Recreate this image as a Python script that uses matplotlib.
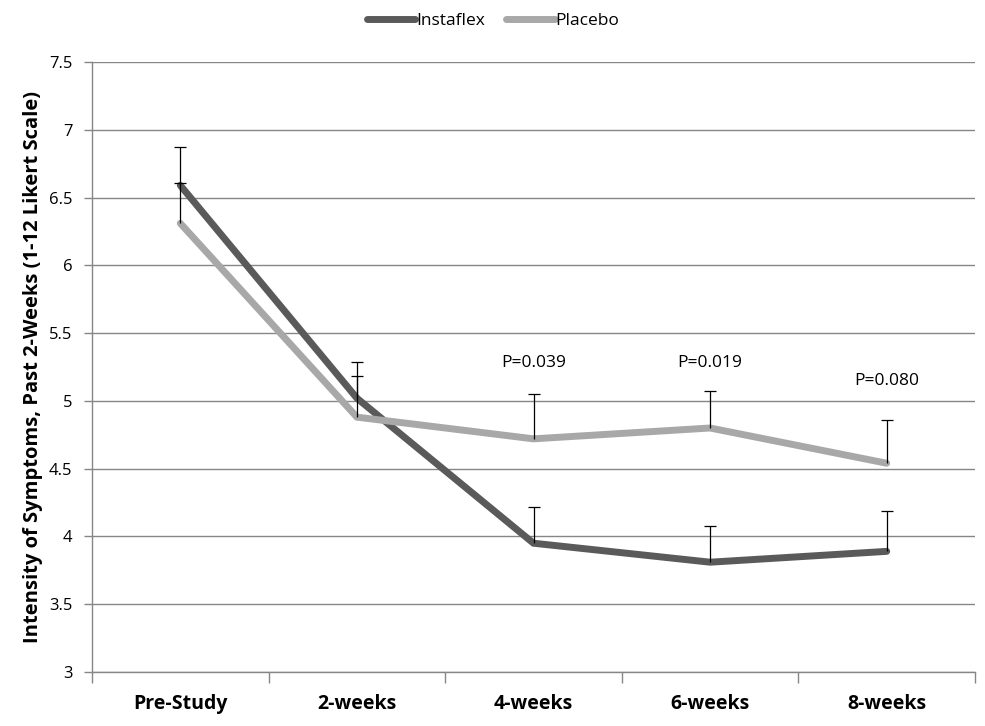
import matplotlib
matplotlib.use("Agg")
import matplotlib.pyplot as plt
import numpy as np

categories = ["Pre-Study", "2-weeks", "4-weeks", "6-weeks", "8-weeks"]
instaflex = [6.59, 5.02, 3.95, 3.81, 3.89]
instaflex_err = [0.28, 0.27, 0.27, 0.27, 0.30]
placebo = [6.31, 4.88, 4.72, 4.80, 4.54]
placebo_err = [0.30, 0.30, 0.33, 0.27, 0.32]
p_labels = ["P=0.039", "P=0.019", "P=0.080"]
p_index = [2, 3, 4]
p_y = [5.28, 5.28, 5.15]
yticks = [3, 3.5, 4, 4.5, 5, 5.5, 6, 6.5, 7, 7.5]

plt.rcParams['font.family'] = ['Open Sans', 'DejaVu Sans']

fig = plt.figure(figsize=(9.85, 7.26), dpi=100)
ax = fig.add_axes([92/985, 54/726, 883/985, 610/726])

x = np.arange(len(categories))
dark = "#5a5a5a"
light = "#a8a8a8"
ax.plot(x, instaflex, color=dark, lw=5, solid_capstyle='round', solid_joinstyle='miter', label="Instaflex", zorder=3)
ax.plot(x, placebo, color=light, lw=5, solid_capstyle='round', solid_joinstyle='miter', label="Placebo", zorder=3)

for vals, errs in ((instaflex, instaflex_err), (placebo, placebo_err)):
    vals = np.asarray(vals)
    tops = vals + np.asarray(errs)
    ax.vlines(x, vals, tops, color='black', lw=0.9, zorder=4)
    ax.plot(x, tops, ls='none', marker='_', ms=9, mew=0.9, color='black', zorder=4)

for i, lab, yy in zip(p_index, p_labels, p_y):
    ax.text(x[i], yy, lab, ha='center', va='center', fontsize=12.5, color='black')

ax.set_xlim(-0.5, len(categories) - 0.5)
ax.set_ylim(3, 7.5)
ax.set_yticks(yticks)
ax.set_yticklabels([f"{t:g}" for t in yticks], fontsize=12)
ax.yaxis.grid(True, color="#868686", lw=1)
ax.set_axisbelow(True)
ax.set_xticks(x)
ax.set_xticklabels(categories, fontsize=14, fontweight='bold')
ax.set_xticks(np.arange(-0.5, len(categories)), minor=True)
ax.tick_params(axis='x', which='major', length=0, pad=16)
ax.tick_params(axis='x', which='minor', length=8, color="#868686", width=1)
ax.tick_params(axis='y', length=6, color="#868686", width=1, pad=8)
for s in ['top', 'right']:
    ax.spines[s].set_visible(False)
for s in ['left', 'bottom']:
    ax.spines[s].set_color("#868686")
    ax.spines[s].set_linewidth(1)

ax.set_ylabel("Intensity of Symptoms, Past 2-Weeks (1-12 Likert Scale)", fontsize=14.5, fontweight='bold', labelpad=4)

leg = fig.legend(loc='center', bbox_to_anchor=(493/985, 1 - 21/726), ncol=2, frameon=False,
                 fontsize=12.5, handlelength=2.8, handletextpad=0.05, columnspacing=1.2)

fig.savefig("out.png", dpi=100)
